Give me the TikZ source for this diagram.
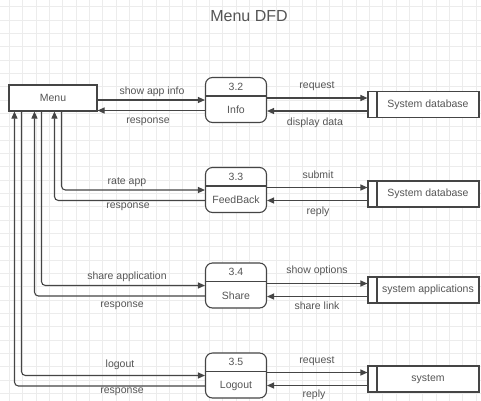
\documentclass[tikz,border=0pt]{standalone}
\usepackage{fontspec}
\setmainfont{Liberation Sans}
\usetikzlibrary{arrows.meta,positioning}

\definecolor{ink}{HTML}{454545}
\definecolor{txt}{HTML}{555555}
\definecolor{gridgray}{HTML}{ECECEC}

\tikzset{
  box/.style={draw=ink, line width=1.1pt, fill=white, minimum width=88pt, minimum height=26pt,
    text=txt, font=\fontsize{10.5}{12}\selectfont},
  proc/.style={draw=ink, line width=1.1pt, fill=white, rounded corners=7pt,
    minimum width=61pt, minimum height=45pt},
  store/.style={draw=ink, line width=1.1pt, fill=white, minimum width=111pt, minimum height=26pt,
    text=txt, font=\fontsize{10.5}{12}\selectfont,
    execute at begin node={\hspace*{9pt}},
    path picture={\draw[ink, line width=1.1pt]
      ([xshift=9pt]path picture bounding box.north west) --
      ([xshift=9pt]path picture bounding box.south west);}},
  ptext/.style={text=txt, font=\fontsize{10.5}{12}\selectfont, inner sep=1pt},
  lbl/.style={text=txt, font=\fontsize{10.5}{12}\selectfont, inner sep=1pt},
  flow/.style={draw=ink, line width=1.1pt, rounded corners=4pt, -{Triangle[length=7pt,width=6pt]}},
}

\begin{document}
\begin{tikzpicture}[x=1pt, y=-1pt]
\useasboundingbox (0,0) rectangle (481,400);
\fill[white] (0,0) rectangle (481,400);
\draw[gridgray, line width=0.6pt, step=13.333pt, xshift=9.3pt, yshift=-6.7pt] (-20,-20) grid (500,420);

\node[text=txt, font=\fontsize{16}{18}\selectfont] (title) at (249,16) {Menu DFD};

% external entity
\node[box] (menu) at (53,98) {Menu};

% processes
\node[proc] (info) at (236,100) {};
\node[proc] (fb) at (236,190) {};
\node[proc] (share) at (236,285.5) {};
\node[proc] (logout) at (236,375.5) {};

\draw[ink, line width=1.1pt] ([yshift=-19pt]info.north west) -- ([yshift=-19pt]info.north east);
\draw[ink, line width=1.1pt] ([yshift=-19pt]fb.north west) -- ([yshift=-19pt]fb.north east);
\draw[ink, line width=1.1pt] ([yshift=-19pt]share.north west) -- ([yshift=-19pt]share.north east);
\draw[ink, line width=1.1pt] ([yshift=-19pt]logout.north west) -- ([yshift=-19pt]logout.north east);

\node[ptext] (infonum) at ([yshift=-9.5pt]info.north) {3.2};
\node[ptext] (infoname) at ([yshift=13pt]info.south) {Info};
\node[ptext] (fbnum) at ([yshift=-9.5pt]fb.north) {3.3};
\node[ptext] (fbname) at ([yshift=13pt]fb.south) {FeedBack};
\node[ptext] (sharenum) at ([yshift=-9.5pt]share.north) {3.4};
\node[ptext] (sharename) at ([yshift=13pt]share.south) {Share};
\node[ptext] (logoutnum) at ([yshift=-9.5pt]logout.north) {3.5};
\node[ptext] (logoutname) at ([yshift=13pt]logout.south) {Logout};

\coordinate (info back) at ([yshift=-10.5pt]info.west);
\coordinate (fb back) at ([yshift=-10.5pt]fb.west);
\coordinate (share back) at ([yshift=-10.5pt]share.west);
\coordinate (logout back) at ([yshift=-10.5pt]logout.west);

% data stores
\node[store] (db1) at (423.5,104.5) {System database};
\node[store] (db2) at (423.5,194) {System database};
\node[store] (apps) at (423.5,290) {system applications};
\node[store] (sys) at (423.5,379) {system};

\coordinate (db1 in) at ([yshift=6.5pt]db1.west);
\coordinate (db1 out) at ([yshift=-6.5pt]db1.west);
\coordinate (db2 in) at ([yshift=6.5pt]db2.west);
\coordinate (db2 out) at ([yshift=-6.5pt]db2.west);
\coordinate (apps in) at ([yshift=6.5pt]apps.west);
\coordinate (apps out) at ([yshift=-6.5pt]apps.west);
\coordinate (sys in) at ([yshift=6.5pt]sys.west);
\coordinate (sys out) at ([yshift=-6.5pt]sys.west);

% menu <-> processes
\draw[flow] (menu.east |- info.west) -- (info.west);
\draw[flow] (info back) -- (menu.east |- info back);
\draw[flow] ([xshift=53pt]menu.south west) |- (fb.west);
\draw[flow] (fb back) -| ([xshift=46pt]menu.south west);
\draw[flow] ([xshift=33pt]menu.south west) |- (share.west);
\draw[flow] (share back) -| ([xshift=26pt]menu.south west);
\draw[flow] ([xshift=13pt]menu.south west) |- (logout.west);
\draw[flow] (logout back) -| ([xshift=6pt]menu.south west);

% processes <-> stores
\draw[flow] (info.east |- db1 in) -- (db1 in);
\draw[flow] (db1 out) -- (info.east |- db1 out);
\draw[flow] (fb.east |- db2 in) -- (db2 in);
\draw[flow] (db2 out) -- (fb.east |- db2 out);
\draw[flow] (share.east |- apps in) -- (apps in);
\draw[flow] (apps out) -- (share.east |- apps out);
\draw[flow] (logout.east |- sys in) -- (sys in);
\draw[flow] (sys out) -- (logout.east |- sys out);

% flow labels
\node[lbl] (l1) at (152,92) {show app info};
\node[lbl] (l2) at (148,122) {response};
\node[lbl] (l3) at (317,86) {request};
\node[lbl] (l4) at (315,123) {display data};
\node[lbl] (l5) at (127,182) {rate app};
\node[lbl] (l6) at (128,207) {response};
\node[lbl] (l7) at (318,175) {submit};
\node[lbl] (l8) at (318,212) {reply};
\node[lbl] (l9) at (127,277) {share application};
\node[lbl] (l10) at (122,306) {response};
\node[lbl] (l11) at (317,271) {show options};
\node[lbl] (l12) at (317,306) {share link};
\node[lbl] (l13) at (120,365) {logout};
\node[lbl] (l14) at (122,392) {response};
\node[lbl] (l15) at (317,361) {request};
\node[lbl] (l16) at (314,395) {reply};
\end{tikzpicture}
\end{document}
